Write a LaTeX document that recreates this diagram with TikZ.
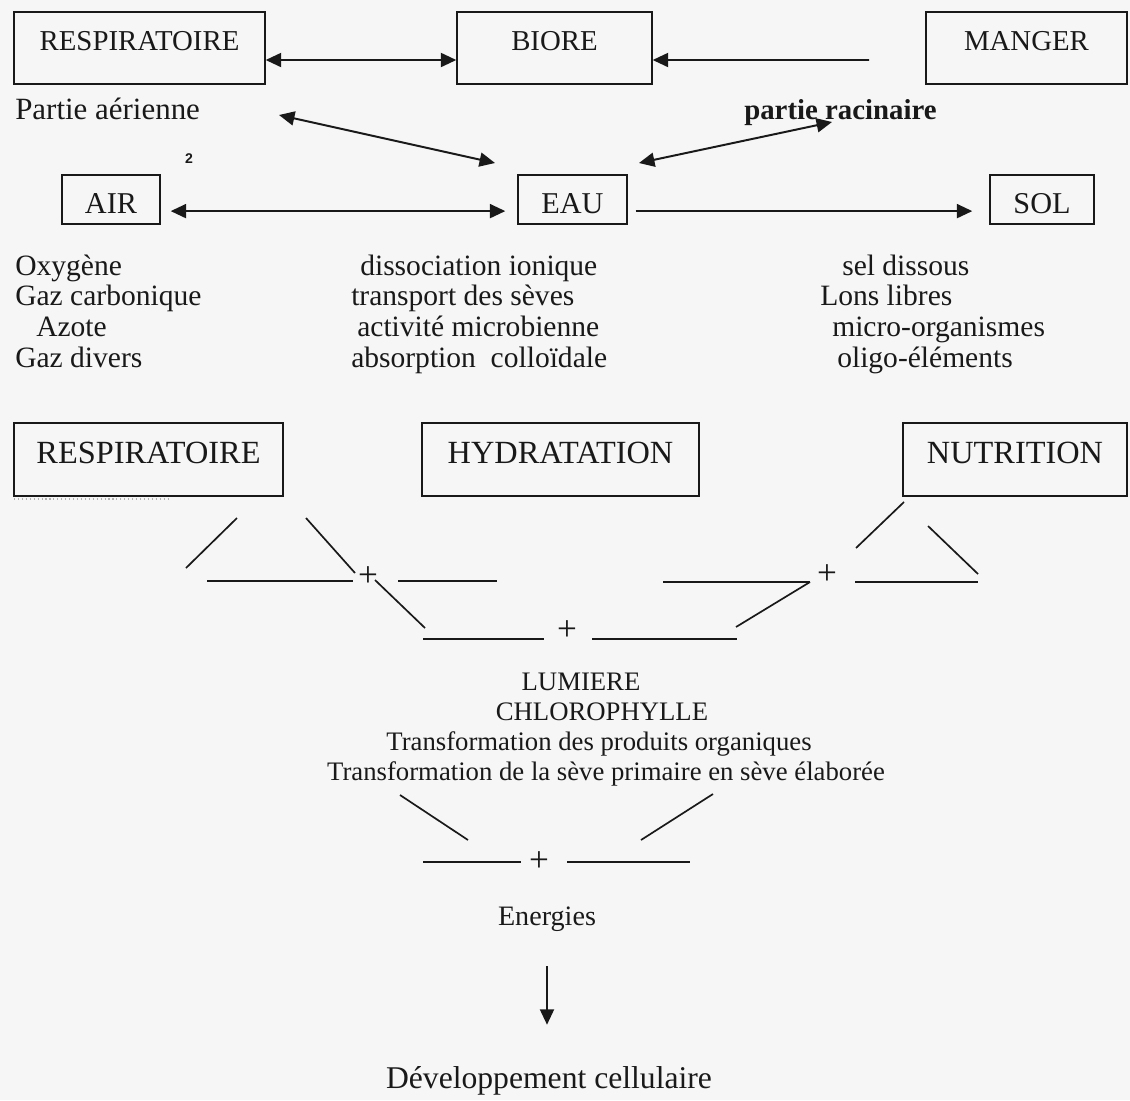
\documentclass[tikz,border=0pt]{standalone}
\usepackage{fontspec}
\setmainfont{Liberation Serif}
\newfontfamily\chiffre{Liberation Sans}
\usetikzlibrary{arrows.meta}
\definecolor{fond}{RGB}{246,246,246}
\definecolor{encre}{RGB}{25,25,25}
\tikzset{
    boite/.style={draw=encre, line width=1pt, inner sep=0pt, anchor=base, text=encre},
    haut/.style={boite, text height=0.95cm, text depth=0.85cm, font=\fontsize{20.5}{24}\selectfont},
    milieu/.style={boite, text height=0.95cm, text depth=0.275cm, font=\fontsize{21.5}{25}\selectfont},
    bas/.style={boite, text height=1cm, text depth=0.825cm, font=\fontsize{23}{27}\selectfont},
    texte/.style={inner sep=0pt, anchor=base west, text=encre, font=\fontsize{21}{25}\selectfont},
    centre/.style={inner sep=0pt, anchor=base, text=encre, font=\fontsize{19}{23}\selectfont},
    fleche/.style={draw=encre, line width=1.4pt},
    trait/.style={draw=encre, line width=1.2pt},
    plus/.style={inner sep=0pt, text=encre, font=\fontsize{25}{28}\selectfont}
}
\begin{document}
\begin{tikzpicture}[x=0.025cm, y=-0.025cm, >={Triangle[length=11pt,width=10pt]}]
            \fill[fond] (0,0) rectangle (1130,1100);
            \useasboundingbox (0,0) rectangle (1130,1100);

            \node[haut, minimum width=6.275cm] (resphaut) at (139.5,50) {RESPIRATOIRE};
            \node[haut, minimum width=4.875cm] (biore) at (554.5,50) {BIORE};
            \node[haut, minimum width=5.025cm] (manger) at (1026.5,50) {MANGER};
            \draw[fleche, <->] ([yshift=-0.3cm]resphaut.east) -- ([yshift=-0.3cm]biore.west);
            \coordinate (depmanger) at (869,60);
            \draw[fleche, ->] (depmanger) -- ([yshift=-0.3cm]biore.east);

            \node[texte, font=\fontsize{22}{26}\selectfont] (aerienne) at (15,119) {Partie aérienne};
            \node[texte, font=\fontsize{20.5}{24}\selectfont\bfseries] (racinaire) at (744,119) {partie racinaire};
            \node[text=encre, font=\chiffre\bfseries\fontsize{10}{12}\selectfont] (deux) at (189,159) {2};
            \coordinate (pa) at (279,115);
            \coordinate (pe) at (495,163);
            \draw[fleche, <->] (pa) -- (pe);
            \coordinate (re) at (639,163);
            \coordinate (rr) at (832,122);
            \draw[fleche, <->] (re) -- (rr);

            \node[milieu, minimum width=2.45cm] (air) at (111,213) {AIR};
            \node[milieu, minimum width=2.725cm] (eau) at (572.5,213) {EAU};
            \node[milieu, minimum width=2.6cm] (sol) at (1042,213) {SOL};
            \draw[fleche, <->, shorten <=0.25cm, shorten >=0.3cm] ([yshift=-0.29cm]air.east) -- ([yshift=-0.29cm]eau.west);
            \draw[fleche, ->, shorten <=0.2cm, shorten >=0.425cm] ([yshift=-0.29cm]eau.east) -- ([yshift=-0.29cm]sol.west);

            \node[texte] (oxygene) at (15,275) {Oxygène};
            \node[texte] (gazcarb) at (15,305) {Gaz carbonique};
            \node[texte] (azote) at (36,336) {Azote};
            \node[texte] (gazdivers) at (15,367) {Gaz divers};
            \node[texte] (dissociation) at (360,275) {dissociation ionique};
            \node[texte] (transport) at (351,305) {transport des sèves};
            \node[texte] (activite) at (357,336) {activité microbienne};
            \node[texte] (absorption) at (351,367) {absorption\ \ colloïdale};
            \node[texte] (sel) at (842,275) {sel dissous};
            \node[texte] (lons) at (820,305) {Lons libres};
            \node[texte] (micro) at (832,336) {micro-organismes};
            \node[texte] (oligo) at (837,367) {oligo-éléments};

            \node[bas, minimum width=6.725cm] (respbas) at (148.5,463) {RESPIRATOIRE};
            \node[bas, minimum width=6.925cm] (hydratation) at (560.5,463) {HYDRATATION};
            \node[bas, minimum width=5.6cm] (nutrition) at (1015,463) {NUTRITION};
            \draw[gray!60, dotted, line width=0.8pt] (14,499) -- (169,499);

            \draw[trait] (237,518) -- (186,568);
            \draw[trait] (306,518) -- (355,573);
            \draw[trait] (207,581) -- (353,581);
            \node[plus] (plusg) at (368,577) {+};
            \draw[trait] (375,580) -- (425,628);
            \draw[trait] (398,581) -- (497,581);

            \draw[trait] (904,502) -- (856,548);
            \draw[trait] (928,526) -- (978,574);
            \draw[trait] (855,582) -- (978,582);
            \node[plus] (plusd) at (827,575) {+};
            \draw[trait] (663,582) -- (810,582);
            \draw[trait] (810,582) -- (736,627);

            \draw[trait] (423,639) -- (544,639);
            \node[plus] (plusm) at (567,631) {+};
            \draw[trait] (592,639) -- (737,639);

            \node[centre] (lumiere) at (581,690) {LUMIERE};
            \node[centre] (chloro) at (602,720) {CHLOROPHYLLE};
            \node[centre] (transfo1) at (599,750) {Transformation des produits organiques};
            \node[centre] (transfo2) at (606,780) {Transformation de la sève primaire en sève élaborée};

            \draw[trait] (400,795) -- (468,840);
            \draw[trait] (713,794) -- (641,840);
            \draw[trait] (423,862) -- (521,862);
            \node[plus] (plusb) at (539,862) {+};
            \draw[trait] (567,862) -- (690,862);

            \node[centre, font=\fontsize{20}{24}\selectfont] (energies) at (547,925) {Energies};
            \node[centre, font=\fontsize{22.5}{27}\selectfont] (devel) at (549,1088) {Développement cellulaire};
            \draw[fleche, ->, shorten <=0.875cm, shorten >=1.025cm] (energies.south) -- (energies.south |- devel.north);

        \end{tikzpicture}
\end{document}
